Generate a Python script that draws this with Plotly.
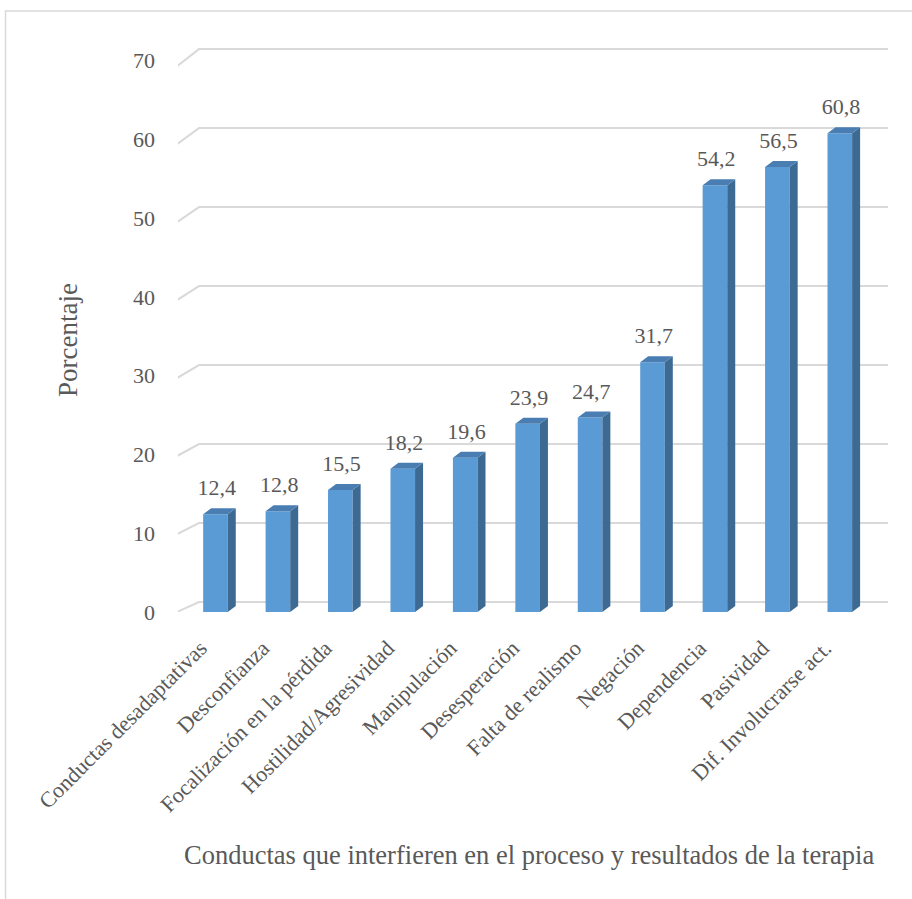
import plotly.graph_objects as go

categories = ["Conductas desadaptativas", "Desconfianza", "Focalización en la pérdida",
              "Hostilidad/Agresividad", "Manipulación", "Desesperación", "Falta de realismo",
              "Negación", "Dependencia", "Pasividad", "Dif. Involucrarse act."]
values = [12.4, 12.8, 15.5, 18.2, 19.6, 23.9, 24.7, 31.7, 54.2, 56.5, 60.8]
value_labels = ["12,4", "12,8", "15,5", "18,2", "19,6", "23,9", "24,7", "31,7", "54,2", "56,5", "60,8"]
y_ticks = [0, 10, 20, 30, 40, 50, 60, 70]
y_title = "Porcentaje"
x_title = "Conductas que interfieren en el proceso y resultados de la terapia"

FONT = "Liberation Serif, Times New Roman, serif"
TXT = "#595959"
FRONT = "#5B9BD5"
SIDE = "#3D6A93"
TOP = "#4A7DB2"
GRID = "#D9D9D9"

W, H = 912, 899
ML, MR, MT, MB = 178, 16, 45, 287
XR = [-0.6, 10.9]
YR = [0, 72]
pxx = (W - ML - MR) / (XR[1] - XR[0])
pxy = (H - MT - MB) / (YR[1] - YR[0])

bw = 0.394           # front face width (x units)
ddx = 8 / pxx        # depth offset of bars
ddy = 6 / pxy

xs = list(range(len(categories)))
fig = go.Figure()

# front faces
fig.add_trace(go.Bar(x=xs, y=values, width=bw, marker=dict(color=FRONT, line=dict(width=0)),
                     hoverinfo="skip", showlegend=False))

# side faces and top faces
sx, sy, tx, ty = [], [], [], []
for x, v in zip(xs, values):
    xl, xr = x - bw / 2, x + bw / 2
    sx += [xr, xr + ddx, xr + ddx, xr, xr, None]
    sy += [0, ddy, v + ddy, v, 0, None]
    tx += [xl, xr, xr + ddx, xl + ddx, xl, None]
    ty += [v, v, v + ddy, v + ddy, v, None]
fig.add_trace(go.Scatter(x=sx, y=sy, fill="toself", fillcolor=SIDE, mode="lines",
                         line=dict(width=0, color=SIDE), hoverinfo="skip", showlegend=False))
fig.add_trace(go.Scatter(x=tx, y=ty, fill="toself", fillcolor=TOP, mode="lines",
                         line=dict(width=0, color=TOP), hoverinfo="skip", showlegend=False))

# value labels
fig.add_trace(go.Scatter(x=[x + 0.02 for x in xs], y=[v + 1.7 for v in values], mode="text",
                         text=value_labels, textposition="top center",
                         textfont=dict(family=FONT, size=22, color=TXT),
                         hoverinfo="skip", showlegend=False, cliponaxis=False))

# back-wall gridlines (drawn below the bars)
x_front = (177 - 215.5) / pxx
x_back = (199 - 215.5) / pxx
x_end = (888 - 215.5) / pxx
for t in y_ticks:
    yf = t * 0.99
    yb = t * 1.003 + 1.27
    fig.add_shape(type="path", xref="x", yref="y", layer="below",
                  path=f"M {x_front},{yf} L {x_back},{yb} L {x_end},{yb}",
                  line=dict(color=GRID, width=2))

# outer border
def px2paper(px, py):
    return (px - ML) / (W - ML - MR), (H - MB - py) / (H - MT - MB)
x0, y0 = px2paper(5.5, 905)
x1, y1 = px2paper(918, 11)
fig.add_shape(type="rect", xref="paper", yref="paper", x0=x0, y0=y0, x1=x1, y1=y1,
              line=dict(color=GRID, width=1.5), layer="below")

# axis titles
ax, ay = px2paper(68, 340)
fig.add_annotation(text=y_title, xref="paper", yref="paper", x=ax, y=ay, showarrow=False,
                   xanchor="center", yanchor="middle",
                   textangle=-90, font=dict(family=FONT, size=27, color=TXT))
bx, by = px2paper(529, 855)
fig.add_annotation(text=x_title, xref="paper", yref="paper", x=bx, y=by, showarrow=False,
                   xanchor="center", yanchor="middle",
                   font=dict(family=FONT, size=26.5, color=TXT))

fig.update_layout(
    width=W, height=H, margin=dict(l=ML, r=MR, t=MT, b=MB, autoexpand=False),
    font=dict(family=FONT, color=TXT),
    plot_bgcolor="white", paper_bgcolor="white", showlegend=False,
    xaxis=dict(range=XR, tickmode="array", tickvals=[x - 0.24 for x in xs], ticktext=categories,
               tickangle=-45, showgrid=False, zeroline=False, showline=False, ticks="",
               ticklabelstandoff=18,
               tickfont=dict(family=FONT, size=22, color=TXT)),
    yaxis=dict(range=YR, tickmode="array", tickvals=y_ticks, ticktext=[str(t) for t in y_ticks],
               showgrid=False, zeroline=False, showline=False, ticks="", ticklabelstandoff=22,
               tickfont=dict(family=FONT, size=22, color=TXT)),
)

fig.write_html("out.html", config={"displayModeBar": False},
               post_script="document.body.style.margin='0px';")
